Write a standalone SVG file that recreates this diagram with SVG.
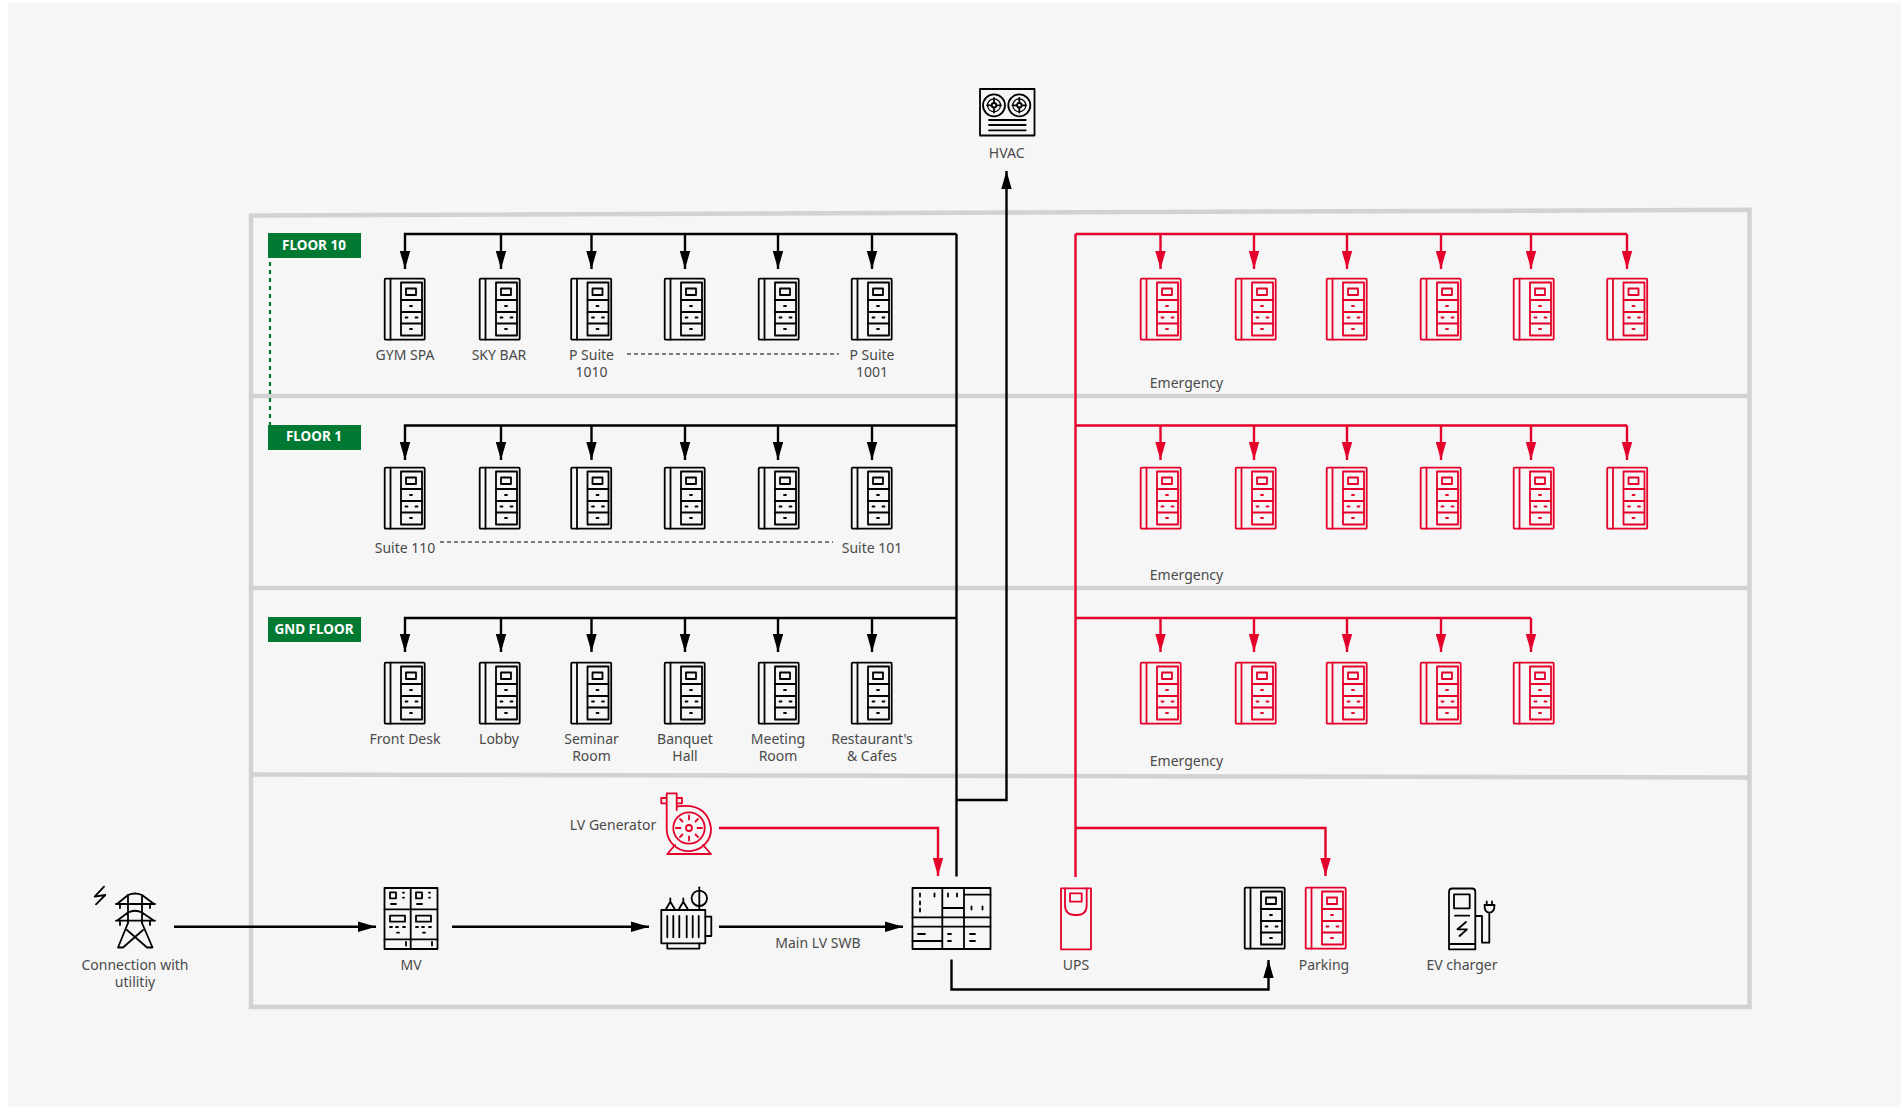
<svg xmlns="http://www.w3.org/2000/svg" width="1901" height="1108" viewBox="0 0 1901 1108">
<style>
text{font-family:"Noto Sans","Open Sans",sans-serif;font-size:14px;fill:#4a4a4a;text-anchor:middle}
.tag{font-weight:700;fill:#fff;font-size:13.500px}
.fr{fill:none;stroke:#d2d2d2;stroke-width:4.500}
.k,.r{fill:none;stroke-width:2.400}
.k{stroke:#000}.r{stroke:#e4002b}
.i{fill:none;stroke-width:1.800;stroke-linejoin:round;stroke-linecap:round}
.ik{stroke:#000}.ir{stroke:#e4002b}
.d{fill:none;stroke:#000;stroke-width:1.200;stroke-dasharray:4 3}
</style>
<defs>
<marker id="ak" markerUnits="userSpaceOnUse" markerWidth="19" markerHeight="11" refX="18" refY="5.500" orient="auto"><path d="M0 .3L18 5.500L0 10.700z" fill="#000"/></marker>
<marker id="ar" markerUnits="userSpaceOnUse" markerWidth="19" markerHeight="11" refX="18" refY="5.500" orient="auto"><path d="M0 .3L18 5.500L0 10.700z" fill="#e4002b"/></marker>
<g id="dev">
<rect x=".7" y=".7" width="40" height="61" rx="1"/><path d="M6.500 .7V61.700"/>
<rect x="17" y="4.500" width="21" height="53"/><path d="M17 22H38M17 34H38M17 45.500H38"/>
<rect x="22" y="10.500" width="10" height="6.500"/>
<path d="M26 28h2M21.500 39.500h2M31.500 39.500h2M26 51h2"/>
</g>
</defs>
<rect width="1901" height="1108" fill="#fff"/>
<rect x="8" y="3" width="1893" height="1104" fill="#f6f6f6"/>
<g id="frame">
<path class="fr" d="M251 215.500L1749.500 209.800V1007H251ZM251 396H1749.500M251 588H1749.500M251 774.500L1749.500 777.500"/>
</g>
<g id="connectors">
<path d="M270 262V425" fill="none" stroke="#007a33" stroke-width="2.200" stroke-dasharray="4 4"/>
<path class="d" d="M627 354H839M440 542H833"/>
<g class="k">
<path d="M956.500 234H405V269" marker-end="url(#ak)"/>
<path d="M956.500 425.500H405V460" marker-end="url(#ak)"/>
<path d="M956.500 618H405V652" marker-end="url(#ak)"/>
<path d="M956.500 234V876.500"/>
<path d="M956.500 800H1006.500V171" marker-end="url(#ak)"/>
<path d="M174 926.700H376" marker-end="url(#ak)"/>
<path d="M452 926.700H649" marker-end="url(#ak)"/>
<path d="M719 926.700H903" marker-end="url(#ak)"/>
<path d="M951.500 959.500V989.500H1268.500V960" marker-end="url(#ak)"/>
<path d="M501 234V269" marker-end="url(#ak)"/><path d="M591.500 234V269" marker-end="url(#ak)"/><path d="M685 234V269" marker-end="url(#ak)"/><path d="M778 234V269" marker-end="url(#ak)"/><path d="M872 234V269" marker-end="url(#ak)"/>
<path d="M501 425.500V460" marker-end="url(#ak)"/><path d="M591.500 425.500V460" marker-end="url(#ak)"/><path d="M685 425.500V460" marker-end="url(#ak)"/><path d="M778 425.500V460" marker-end="url(#ak)"/><path d="M872 425.500V460" marker-end="url(#ak)"/>
<path d="M501 618V652" marker-end="url(#ak)"/><path d="M591.500 618V652" marker-end="url(#ak)"/><path d="M685 618V652" marker-end="url(#ak)"/><path d="M778 618V652" marker-end="url(#ak)"/><path d="M872 618V652" marker-end="url(#ak)"/>
</g>
<g class="r">
<path d="M1075.500 234V877M1075.500 234H1627M1075.500 425.500H1627M1075.500 618H1531"/>
<path d="M1160.500 234V269" marker-end="url(#ar)"/><path d="M1254 234V269" marker-end="url(#ar)"/><path d="M1347 234V269" marker-end="url(#ar)"/><path d="M1441 234V269" marker-end="url(#ar)"/><path d="M1531 234V269" marker-end="url(#ar)"/><path d="M1627 234V269" marker-end="url(#ar)"/>
<path d="M1160.500 425.500V460" marker-end="url(#ar)"/><path d="M1254 425.500V460" marker-end="url(#ar)"/><path d="M1347 425.500V460" marker-end="url(#ar)"/><path d="M1441 425.500V460" marker-end="url(#ar)"/><path d="M1531 425.500V460" marker-end="url(#ar)"/><path d="M1627 425.500V460" marker-end="url(#ar)"/>
<path d="M1160.500 618V652" marker-end="url(#ar)"/><path d="M1254 618V652" marker-end="url(#ar)"/><path d="M1347 618V652" marker-end="url(#ar)"/><path d="M1441 618V652" marker-end="url(#ar)"/><path d="M1531 618V652" marker-end="url(#ar)"/>
<path d="M1075.500 828H1325.500V876" marker-end="url(#ar)"/>
<path d="M719 828H938V876" marker-end="url(#ar)"/>
</g>
</g>
<g id="tag-floor10"><rect x="268" y="233" width="93" height="25" fill="#007a33"/><text class="tag" x="314" y="249.500">FLOOR 10</text></g>
<g id="tag-floor1"><rect x="268" y="425" width="93" height="25" fill="#007a33"/><text class="tag" x="314" y="441">FLOOR 1</text></g>
<g id="tag-gnd"><rect x="268" y="617" width="93" height="25" fill="#007a33"/><text class="tag" x="314" y="634">GND FLOOR</text></g>

<g id="dev-gym"><use href="#dev" x="384" y="278" class="i ik"/><text x="405" y="360">GYM SPA</text></g>
<g id="dev-sky"><use href="#dev" x="479" y="278" class="i ik"/><text x="499" y="360">SKY BAR</text></g>
<g id="dev-p1010"><use href="#dev" x="570.500" y="278" class="i ik"/><text x="591.500" y="360">P Suite</text><text x="591.500" y="377">1010</text></g>
<g id="dev-t4"><use href="#dev" x="664" y="278" class="i ik"/></g>
<g id="dev-t5"><use href="#dev" x="758" y="278" class="i ik"/></g>
<g id="dev-p1001"><use href="#dev" x="851" y="278" class="i ik"/><text x="872" y="360">P Suite</text><text x="872" y="377">1001</text></g>

<g id="dev-s110"><use href="#dev" x="384" y="467" class="i ik"/><text x="405" y="553">Suite 110</text></g>
<g id="dev-m2"><use href="#dev" x="479" y="467" class="i ik"/></g>
<g id="dev-m3"><use href="#dev" x="570.500" y="467" class="i ik"/></g>
<g id="dev-m4"><use href="#dev" x="664" y="467" class="i ik"/></g>
<g id="dev-m5"><use href="#dev" x="758" y="467" class="i ik"/></g>
<g id="dev-s101"><use href="#dev" x="851" y="467" class="i ik"/><text x="872" y="553">Suite 101</text></g>

<g id="dev-front"><use href="#dev" x="384" y="662" class="i ik"/><text x="405" y="744">Front Desk</text></g>
<g id="dev-lobby"><use href="#dev" x="479" y="662" class="i ik"/><text x="499" y="744">Lobby</text></g>
<g id="dev-seminar"><use href="#dev" x="570.500" y="662" class="i ik"/><text x="591.500" y="744">Seminar</text><text x="591.500" y="761">Room</text></g>
<g id="dev-banquet"><use href="#dev" x="664" y="662" class="i ik"/><text x="685" y="744">Banquet</text><text x="685" y="761">Hall</text></g>
<g id="dev-meeting"><use href="#dev" x="758" y="662" class="i ik"/><text x="778" y="744">Meeting</text><text x="778" y="761">Room</text></g>
<g id="dev-rest"><use href="#dev" x="851" y="662" class="i ik"/><text x="872" y="744">Restaurant's</text><text x="872" y="761">&amp; Cafes</text></g>

<g id="em-10">
<use href="#dev" x="1140" y="278" class="i ir"/><use href="#dev" x="1235" y="278" class="i ir"/><use href="#dev" x="1326" y="278" class="i ir"/><use href="#dev" x="1420" y="278" class="i ir"/><use href="#dev" x="1513" y="278" class="i ir"/><use href="#dev" x="1606.500" y="278" class="i ir"/>
<text x="1186.500" y="388">Emergency</text></g>
<g id="em-1">
<use href="#dev" x="1140" y="467" class="i ir"/><use href="#dev" x="1235" y="467" class="i ir"/><use href="#dev" x="1326" y="467" class="i ir"/><use href="#dev" x="1420" y="467" class="i ir"/><use href="#dev" x="1513" y="467" class="i ir"/><use href="#dev" x="1606.500" y="467" class="i ir"/>
<text x="1186.500" y="580">Emergency</text></g>
<g id="em-g">
<use href="#dev" x="1140" y="662" class="i ir"/><use href="#dev" x="1235" y="662" class="i ir"/><use href="#dev" x="1326" y="662" class="i ir"/><use href="#dev" x="1420" y="662" class="i ir"/><use href="#dev" x="1513" y="662" class="i ir"/>
<text x="1186.500" y="766">Emergency</text></g>

<g id="hvac">
<g class="i ik"><rect x="980" y="89" width="54.500" height="46.500"/>
<circle cx="994" cy="105.300" r="11"/><circle cx="1019.300" cy="105.300" r="11"/><circle cx="994" cy="105.300" r="2.300"/><circle cx="1019.300" cy="105.300" r="2.300"/>
<circle cx="994" cy="105.300" r="6.500" stroke-width="1.200"/><circle cx="1019.300" cy="105.300" r="6.500" stroke-width="1.200"/>
<path d="M989 120H1025.700M989 125H1025.700M989 130.300H1025.700"/>
<path d="M994 98V103M994 107.500V112.500M987 105.300H991.500M996.500 105.300H1001"/>
<path d="M1019.300 98V103M1019.300 107.500V112.500M1012.300 105.300H1017M1021.800 105.300H1026.300"/></g>
<text x="1006.700" y="158">HVAC</text></g>

<g id="tower">
<g class="i ik"><path d="M104 886.700L94.700 896.700L105.300 895L96 904.300"/>
<path d="M116 904H155M116 920.700H155M117 904L128 895Q135 892 142 895L154 904M117 920.700L128 912.500Q135 909 142 912.500L154 920.700M128 895V923M142 895V923M120 904V908M150 904V908M120 920.700V925M150 920.700V925"/>
<path d="M128 923L118 947.500L123 947.500L143 930M142 923L152.500 947.500L147 947.500L127 930"/></g>
<text x="135" y="970">Connection with</text><text x="135" y="987">utilitiy</text></g>

<g id="mv">
<g class="i ik"><rect x="384.500" y="888" width="53" height="61"/><path d="M410.700 888V949M384.500 909.300H437.500M384.500 939.300H437.500"/>
<rect x="390" y="892.300" width="6" height="6"/><rect x="416" y="892.300" width="6" height="6"/>
<rect x="390" y="915.700" width="15" height="6"/><rect x="416" y="915.700" width="15" height="6"/>
<path d="M403 892.700h1M403 897.700h1M429 892.700h1M429 897.700h1M391 904h5M417 904h5M390 927h2M396 927h2M403 927h2M416 927h2M422 927h2M429 927h2M397 932.700h2M423 932.700h2M406 942V945.500M432 942V945.500"/></g>
<text x="411" y="970">MV</text></g>

<g id="transformer" class="i ik">
<rect x="661.300" y="910" width="44" height="33.300"/>
<path d="M667.300 916V937.300M673.300 916V937.300M679.300 916V937.300M686.700 916V937.300M692.700 916V937.300M698.700 916V937.300M705.300 916.700H711.300V936H705.300M667.300 943.300V948.700H699.300V943.300M666 909L670.300 901.700L674.700 909M670.300 901.700V898.300M679 909L683.300 901.700L687.700 909M683.300 901.700V898.300"/>
<circle cx="699.300" cy="898.300" r="7.700"/><path d="M699.300 887.300V910"/>
</g>

<g id="generator">
<g class="i ir">
<circle cx="689" cy="828" r="15.700"/><circle cx="689" cy="828" r="3"/>
<path d="M676.700 806.500Q707 802 711 828A22 22 0 1 1 666.700 830V793.300H676.700V810M666.700 798H661.300V803.300H666.700M676.700 798H682V803.300H676.700"/>
<path d="M667.300 854H711M667.300 854L675 845M711 854L703 845M689 815.500V819.500M689 836.500V840.500M676 828H680.500M697.500 828H702M680 819L682.500 821.500M695.500 834.500L698 837M698 819L695.500 821.500M682.500 834.500L680 837"/></g>
<text x="613" y="830">LV Generator</text></g>

<g id="swb">
<g class="i ik"><rect x="912.500" y="888" width="78" height="61"/>
<path d="M942.300 888V949M964 888V949M912.500 917.300H990.500M912.500 926.700H990.500M942.300 908H964M964 894.700H990.500M912.500 941H942.300"/>
<path d="M920 893.500V896.500M920 901.500V904.500M920 908.500V911.500M934.500 893.500V896.500M948 893.500V896.500M957 893.500V896.500M971.500 906.500V909.500M982.500 906.500V909.500M918 934H925M948 934H951M948 941H951M970 934H975M970 941H975"/></g>
<text x="818" y="948">Main LV SWB</text></g>

<g id="ups">
<g class="i ir"><rect x="1061" y="888.300" width="30" height="61"/><path d="M1065 888.300V905Q1065 915 1075 915H1077Q1086.700 915 1086.700 905V888.300"/><rect x="1070" y="893.300" width="11.700" height="8.400"/></g>
<text x="1076" y="970">UPS</text></g>

<g id="parking">
<use href="#dev" x="1244" y="887" class="i ik"/><use href="#dev" x="1305" y="887" class="i ir"/>
<text x="1324" y="970">Parking</text></g>

<g id="ev">
<g class="i ik"><path d="M1449 944V892Q1449 888.500 1452.500 888.500H1472Q1475.300 888.500 1475.300 892V944ZM1449 949.300V944H1475.300V949.300ZM1454 894.300H1469.700V908.300H1454ZM1455 915.700H1469.300M1466 922L1457.500 929.300H1467L1459.500 936M1475.300 916H1482V942.700H1489.300V913.300M1484.500 905H1494.500Q1494.500 912.700 1489.300 912.700Q1484.500 912.700 1484.500 905ZM1486.700 901.500V905M1492 901.500V905"/></g>
<text x="1462" y="970">EV charger</text></g>
</svg>
